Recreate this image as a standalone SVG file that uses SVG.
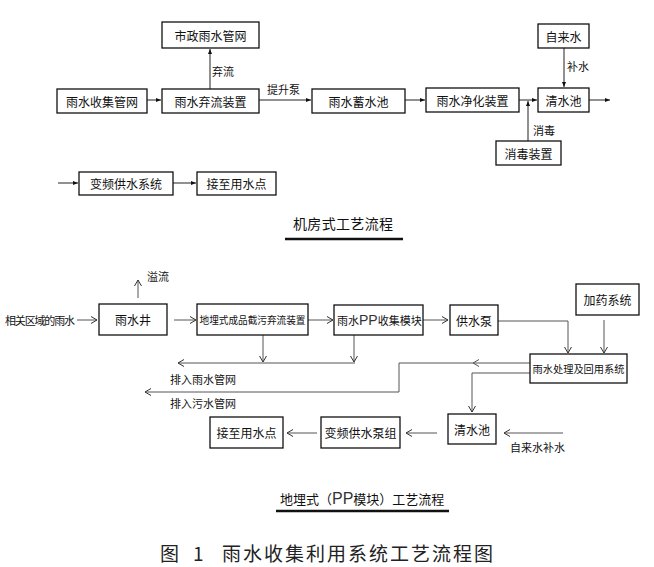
<svg xmlns="http://www.w3.org/2000/svg" width="654" height="567" viewBox="0 0 654 567">
<style>
.box{fill:#fff;stroke:#111;stroke-width:1.3}
.t{font-family:"Noto Sans CJK SC","Liberation Sans",sans-serif;font-size:12px;fill:#111;text-anchor:middle;dominant-baseline:central}
.ts{font-family:"Noto Sans CJK SC","Liberation Sans",sans-serif;font-size:11px;fill:#111;dominant-baseline:central}
.ln{fill:none;stroke:#222;stroke-width:1}
.lg{fill:none;stroke:#555;stroke-width:1}
.pp{font-family:"Liberation Sans",sans-serif;fill:#333}
.ttl{font-family:"Noto Sans CJK SC",sans-serif;font-size:14px;fill:#111;dominant-baseline:central}
.cap{font-family:"Noto Sans CJK SC",sans-serif;font-size:19px;fill:#222;dominant-baseline:central}
</style>
<defs>
<marker id="af" markerWidth="6" markerHeight="6" refX="5" refY="3" orient="auto" markerUnits="userSpaceOnUse">
<path d="M0,1 L5,3 L0,5 Z" fill="#111"/>
</marker>
<marker id="ao" markerWidth="8" markerHeight="8" refX="6" refY="4" orient="auto" markerUnits="userSpaceOnUse">
<path d="M0,0.5 L6,4 L0,7.5" fill="none" stroke="#333" stroke-width="1"/>
</marker>
</defs>

<g id="connectors">
<!-- top -->
<line class="ln" x1="147" y1="100" x2="161" y2="100" marker-end="url(#af)"/>
<line class="ln" x1="210" y1="89" x2="210" y2="49" marker-end="url(#af)"/>
<line class="ln" x1="259" y1="100" x2="311" y2="100" marker-end="url(#af)"/>
<line class="ln" x1="405" y1="100" x2="425" y2="100" marker-end="url(#af)"/>
<line class="ln" x1="519" y1="100" x2="537" y2="100" marker-end="url(#af)"/>
<line class="ln" x1="589" y1="100" x2="610" y2="100" marker-end="url(#af)"/>
<line class="ln" x1="564" y1="48" x2="564" y2="87" marker-end="url(#af)"/>
<line class="ln" x1="528" y1="141" x2="528" y2="101" marker-end="url(#af)"/>
<line class="ln" x1="58" y1="183" x2="78" y2="183" marker-end="url(#af)"/>
<line class="ln" x1="173" y1="183" x2="196" y2="183" marker-end="url(#af)"/>
<!-- bottom -->
<line class="lg" x1="77" y1="320" x2="97" y2="320" marker-end="url(#ao)"/>
<line class="lg" x1="138" y1="298" x2="138" y2="280" marker-end="url(#ao)"/>
<line class="lg" x1="174" y1="320" x2="196" y2="320" marker-end="url(#ao)"/>
<line class="lg" x1="308" y1="320" x2="333" y2="320" marker-end="url(#ao)"/>
<line class="lg" x1="423" y1="320" x2="448" y2="320" marker-end="url(#ao)"/>
<polyline class="lg" points="498,321 568,321 568,353" marker-end="url(#ao)"/>
<line class="lg" x1="604" y1="320" x2="604" y2="353" marker-end="url(#ao)"/>
<line class="lg" x1="263" y1="335" x2="263" y2="362" marker-end="url(#ao)"/>
<line class="lg" x1="354" y1="335" x2="354" y2="362" marker-end="url(#ao)"/>
<line class="lg" x1="355" y1="363" x2="178" y2="363" marker-end="url(#ao)"/>
<polyline class="lg" points="530,363 399,363 399,392 145,392" marker-end="url(#ao)"/>
<path class="lg" d="M479,359.5 L473,363 L479,366.5"/>
<polyline class="lg" points="530,373 472,373 472,412" marker-end="url(#ao)"/>
<line class="lg" x1="563" y1="433" x2="504" y2="433" marker-end="url(#ao)"/>
<line class="lg" x1="437" y1="433" x2="406" y2="433" marker-end="url(#ao)"/>
<line class="lg" x1="317" y1="433" x2="287" y2="433" marker-end="url(#ao)"/>
</g>

<g id="n-szys"><rect class="box" x="162" y="22" width="97" height="26"/><text class="t" x="210.5" y="35">市政雨水管网</text></g>
<g id="n-ysgw"><rect class="box" x="57" y="89" width="90" height="24"/><text class="t" x="102" y="101">雨水收集管网</text></g>
<g id="n-qlzz"><rect class="box" x="162" y="89" width="97" height="24"/><text class="t" x="210.5" y="101">雨水弃流装置</text></g>
<g id="n-xsc"><rect class="box" x="312" y="89" width="93" height="24"/><text class="t" x="358.5" y="101">雨水蓄水池</text></g>
<g id="n-jhzz"><rect class="box" x="426" y="88" width="93" height="24"/><text class="t" x="472.5" y="100">雨水净化装置</text></g>
<g id="n-qsc"><rect class="box" x="538" y="88" width="51" height="24"/><text class="t" x="563.5" y="100">清水池</text></g>
<g id="n-zls"><rect class="box" x="538" y="24" width="51" height="24"/><text class="t" x="563.5" y="36">自来水</text></g>
<g id="n-xdzz"><rect class="box" x="496" y="141" width="65" height="24"/><text class="t" x="528.5" y="153">消毒装置</text></g>
<g id="n-bpgs"><rect class="box" x="79" y="172" width="94" height="23"/><text class="t" x="126" y="183.5">变频供水系统</text></g>
<g id="n-jzys"><rect class="box" x="197" y="172" width="79" height="23"/><text class="t" x="236.5" y="183.5">接至用水点</text></g>

<g id="labels-top">
<text class="ts" x="212" y="71">弃流</text>
<text class="ts" x="267" y="89">提升泵</text>
<text class="ts" x="567" y="66">补水</text>
<text class="ts" x="533" y="130">消毒</text>
</g>

<g id="title1">
<text class="ttl" x="293" y="223" textLength="100">机房式工艺流程</text>
<line x1="285" y1="239" x2="403" y2="239" stroke="#111" stroke-width="2.5"/>
</g>

<text class="ts" x="5" y="320" textLength="70">相关区域的雨水</text>
<text class="ts" x="147" y="276">溢流</text>
<g id="n-ysj"><rect class="box" x="99" y="304" width="68" height="31"/><text class="t" x="133" y="319.5">雨水井</text></g>
<g id="n-dms"><rect class="box" x="197" y="304" width="111" height="31"/><text class="t" x="252.5" y="319.5" style="font-size:10px" textLength="106" lengthAdjust="spacingAndGlyphs">地埋式成品截污弃流装置</text></g>
<g id="n-pp"><rect class="box" x="334" y="305" width="89" height="30"/>
<text class="ts" x="337" y="320">雨水<tspan class="pp" style="font-size:14px">PP</tspan>收集模块</text></g>
<g id="n-gsb"><rect class="box" x="450" y="305" width="48" height="30"/><text class="t" x="474" y="320">供水泵</text></g>
<g id="n-jyxt"><rect class="box" x="576" y="284" width="63" height="31"/><text class="t" x="607.5" y="299.5">加药系统</text></g>
<g id="n-clxt"><rect class="box" x="530" y="354" width="97" height="29"/><text class="t" x="578.5" y="368.5" style="font-size:10.5px" textLength="92" lengthAdjust="spacingAndGlyphs">雨水处理及回用系统</text></g>
<g id="n-qsc2"><rect class="box" x="448" y="414" width="48" height="30"/><text class="t" x="472" y="429">清水池</text></g>
<g id="n-bpsb"><rect class="box" x="321" y="417" width="79" height="31"/><text class="t" x="360.5" y="432.5">变频供水泵组</text></g>
<g id="n-jzys2"><rect class="box" x="210" y="417" width="73" height="31"/><text class="t" x="246.5" y="432.5">接至用水点</text></g>

<g id="labels-bottom">
<text class="ts" x="170" y="379">排入雨水管网</text>
<text class="ts" x="170" y="403">排入污水管网</text>
<text class="ts" x="510" y="447">自来水补水</text>
</g>

<g id="title2">
<text class="ttl" x="280" y="498" style="font-size:13px">地埋式（<tspan class="pp" style="font-size:16px">PP</tspan>模块）工艺流程</text>
<line x1="276" y1="511" x2="449" y2="511" stroke="#111" stroke-width="2.5"/>
</g>

<g id="caption">
<text class="cap" x="160" y="552">图</text>
<text class="cap" x="193" y="552">1</text>
<text class="cap" x="222" y="552" textLength="271">雨水收集利用系统工艺流程图</text>
</g>
</svg>
